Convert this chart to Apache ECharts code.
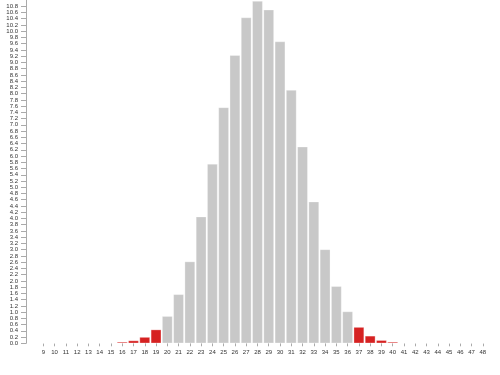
<!DOCTYPE html>
<html>
<head>
<meta charset="utf-8">
<script src="https://cdn.jsdelivr.net/npm/echarts@6/dist/echarts.min.js"></script>
<style>html,body{margin:0;padding:0;background:#fff}#c{width:500px;height:375px}</style>
</head>
<body>
<div id="c"></div>
<script>
var categories = ['9','10','11','12','13','14','15','16','17','18','19','20','21','22','23','24','25','26','27','28','29','30','31','32','33','34','35','36','37','38','39','40','41','42','43','44','45','46','47','48'];
var values = [0,0,0,0.001,0.003,0.007,0.018,0.045,0.09,0.2,0.44,0.87,1.57,2.62,4.06,5.75,7.56,9.23,10.44,10.97,10.69,9.67,8.12,6.3,4.54,3.01,1.83,1.02,0.52,0.24,0.1,0.045,0.018,0.007,0.003,0.001,0,0,0,0];
var lowTail = 19;
var highTail = 37;

var chart = echarts.init(document.getElementById('c'), null, {renderer: 'canvas'});
var data = categories.map(function (c, i) {
  var n = +c;
  var red = n <= lowTail || n >= highTail;
  return {value: values[i], itemStyle: {color: red ? '#d62222' : '#c8c8c8'}};
});
chart.setOption({
  animation: false,
  grid: {left: 37.7, right: 11.5, top: -1.5, bottom: 31.7, containLabel: false},
  xAxis: {
    type: 'category',
    data: categories,
    axisLine: {show: false},
    axisTick: {show: true, alignWithLabel: true, length: 3, lineStyle: {color: '#aaa'}},
    axisLabel: {fontSize: 6, color: '#333', margin: 6, fontFamily: 'Liberation Sans', interval: 0}
  },
  yAxis: {
    type: 'value',
    min: 0, max: 11, interval: 0.2,
    offset: 11.7,
    splitLine: {show: false},
    axisLine: {show: true, lineStyle: {color: '#aaa'}},
    axisTick: {show: true, length: 5, lineStyle: {color: '#aaa'}},
    axisLabel: {fontSize: 6, color: '#333', margin: 8, fontFamily: 'Liberation Sans', showMaxLabel: false,
      formatter: function (v) { return v.toFixed(1); }}
  },
  series: [{
    type: 'bar',
    data: data,
    barCategoryGap: '7%',
    itemStyle: {borderColor: 'rgba(255,255,255,0.5)', borderWidth: 0.6}
  }]
});
</script>
</body>
</html>
